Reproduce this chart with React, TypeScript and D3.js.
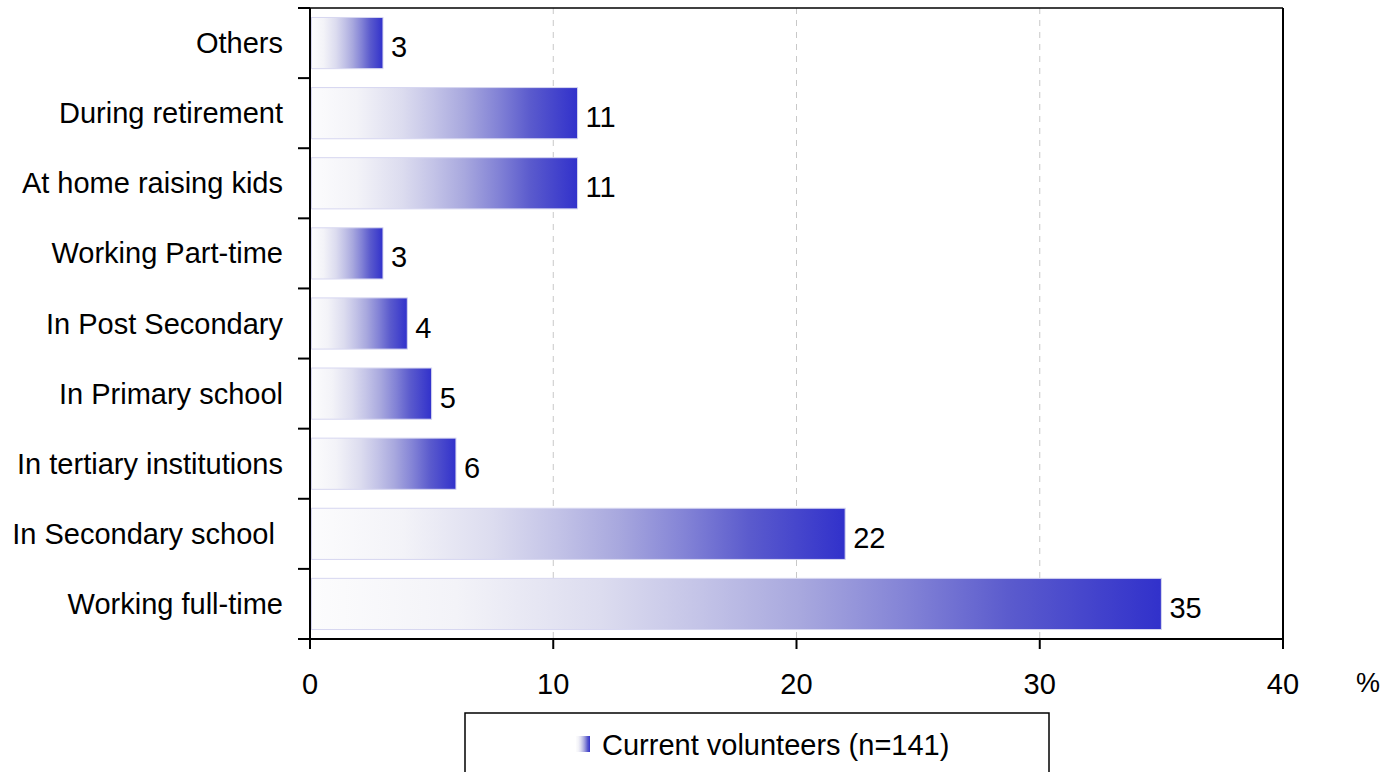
import React from "react";
import * as d3 from "d3";

// Stage of life when respondents started volunteering (top to bottom)
const categories = [
  "Others",
  "During retirement",
  "At home raising kids",
  "Working Part-time",
  "In Post Secondary",
  "In Primary school",
  "In tertiary institutions",
  "In Secondary school ",
  "Working full-time",
];
const values = [3, 11, 11, 3, 4, 5, 6, 22, 35];
const xTicks = [0, 10, 20, 30, 40];
const seriesName = "Current volunteers (n=141)";
const unitLabel = "%";

const W = 1387;
const H = 772;
const M = { left: 310, right: 1283, top: 8, bottom: 639 };
const FONT = "'Liberation Sans', Arial, sans-serif";
const FS = 29;

const gradientStops: [number, string][] = [
  [0, "#fcfcfd"],
  [0.17, "#f3f3f8"],
  [0.34, "#dcdcef"],
  [0.46, "#c3c3e7"],
  [0.575, "#a8a8de"],
  [0.7, "#8383d6"],
  [0.82, "#5b5bcd"],
  [1, "#3131cb"],
];

export default function App() {
  const x = d3.scaleLinear().domain([0, 40]).range([M.left, M.right]);
  const y = d3
    .scaleBand<string>()
    .domain(categories)
    .range([M.top, M.bottom])
    .paddingInner(0.27)
    .paddingOuter(0.135);
  const step = y.step();
  const boundaries = d3.range(categories.length + 1).map((i) => M.top + i * step);

  return (
    <svg
      width={W}
      height={H}
      style={{ position: "absolute", left: 0, top: 0, background: "#fff" }}
      fontFamily={FONT}
    >
      <defs>
        <linearGradient id="barGrad" x1="0" x2="1" y1="0" y2="0">
          {gradientStops.map(([o, c]) => (
            <stop key={o} offset={o} stopColor={c} />
          ))}
        </linearGradient>
      </defs>
      <rect x={0} y={0} width={W} height={H} fill="#fff" />

      {/* dashed vertical gridlines */}
      {xTicks.slice(1, -1).map((t) => (
        <line
          key={t}
          x1={x(t)}
          x2={x(t)}
          y1={M.top}
          y2={M.bottom}
          stroke="#c8c8c8"
          strokeWidth={1}
          strokeDasharray="6,6"
        />
      ))}

      {/* bars */}
      {categories.map((c, i) => (
        <rect
          key={c}
          x={x(0) + 1.5}
          y={y(c)!}
          width={x(values[i]) - x(0) - 1.5}
          height={y.bandwidth()}
          fill="url(#barGrad)"
          stroke="#d6d6f0"
          strokeWidth={1}
        />
      ))}

      {/* value labels */}
      {categories.map((c, i) => (
        <text
          key={c}
          x={x(values[i]) + 8}
          y={y(c)! + y.bandwidth() / 2 + 4}
          dominantBaseline="central"
          fontSize={FS}
          fill="#000"
        >
          {values[i]}
        </text>
      ))}

      {/* frame */}
      <line x1={M.left} x2={M.right} y1={M.top} y2={M.top} stroke="#000" strokeWidth={1.5} />
      <line x1={M.right} x2={M.right} y1={M.top} y2={M.bottom + 10} stroke="#000" strokeWidth={2} />
      <line x1={M.left} x2={M.left} y1={M.top} y2={M.bottom} stroke="#000" strokeWidth={2} />
      <line x1={M.left - 1} x2={M.right + 1} y1={M.bottom} y2={M.bottom} stroke="#000" strokeWidth={2} />

      {/* y ticks */}
      {boundaries.map((b, i) => (
        <line key={i} x1={M.left - 12} x2={M.left} y1={b} y2={b} stroke="#000" strokeWidth={2} />
      ))}

      {/* category labels */}
      {categories.map((c) => (
        <text
          key={c}
          x={283}
          y={y(c)! + y.bandwidth() / 2}
          textAnchor="end"
          dominantBaseline="central"
          fontSize={FS}
          fill="#000"
          style={{ whiteSpace: "pre" }}
        >
          {c}
        </text>
      ))}

      {/* x ticks and labels */}
      {xTicks.map((t) => (
        <g key={t}>
          <line x1={x(t)} x2={x(t)} y1={M.bottom} y2={M.bottom + 10} stroke="#000" strokeWidth={2} />
          <text
            x={x(t)}
            y={684}
            textAnchor="middle"
            dominantBaseline="central"
            fontSize={FS}
            fill="#000"
          >
            {t}
          </text>
        </g>
      ))}
      <text x={1368} y={683} textAnchor="middle" dominantBaseline="central" fontSize={FS - 2} fill="#000">
        {unitLabel}
      </text>

      {/* legend */}
      <rect x={465} y={713} width={584} height={80} fill="#fff" stroke="#000" strokeWidth={1.5} />
      <rect x={576} y={736} width={14} height={16} fill="url(#barGrad)" />
      <text x={602} y={745} dominantBaseline="central" fontSize={FS} fill="#000">
        {seriesName}
      </text>
    </svg>
  );
}
